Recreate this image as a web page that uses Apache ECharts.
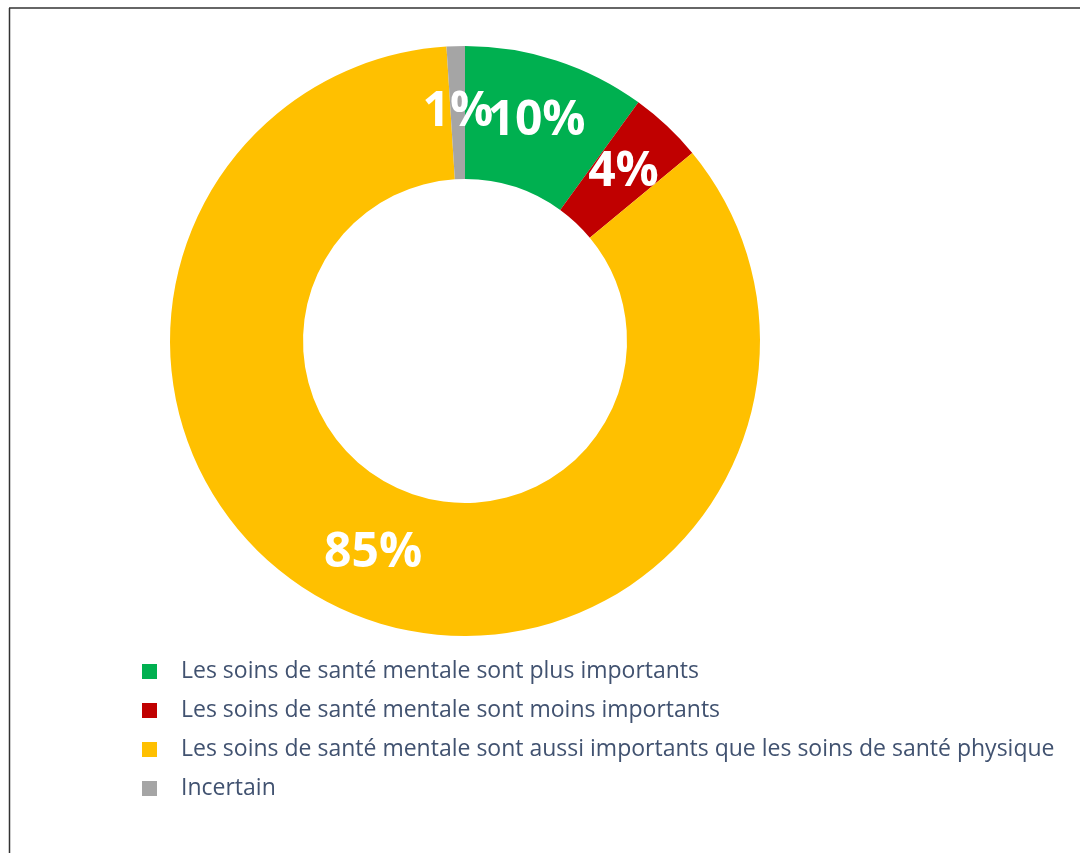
<!DOCTYPE html>
<html>
<head>
<meta charset="utf-8">
<title>Soins de santé mentale</title>
<script src="https://cdn.jsdelivr.net/npm/echarts@6/dist/echarts.min.js"></script>
<style>
  html, body { margin: 0; padding: 0; background: #fff; }
  #chart { width: 1080px; height: 853px; }
</style>
</head>
<body>
<div id="chart"></div>
<script>
// données
var categories = [
    'Les soins de santé mentale sont plus importants',
    'Les soins de santé mentale sont moins importants',
    'Les soins de santé mentale sont aussi importants que les soins de santé physique',
    'Incertain'
];
var values = [10, 4, 85, 1];
var colors = ['#00B050', '#C00000', '#FFC000', '#A5A5A5'];

var myChart = echarts.init(document.getElementById('chart'), null, { renderer: 'canvas' });

var center = [465, 341];
var radius = [162, 295];
var total = values.reduce(function (a, b) { return a + b; }, 0);

// position au milieu de l'anneau pour une part (la petite part grise
// serait masquée par ECharts en position 'inside', on la replace ici)
function midRingPoint(idx) {
    var before = 0;
    for (var i = 0; i < idx; i++) before += values[i];
    var ang = (before + values[idx] / 2) / total * Math.PI * 2;
    var r = (radius[0] + radius[1]) / 2;
    return [center[0] + r * Math.sin(ang), center[1] - r * Math.cos(ang)];
}

var pieData = categories.map(function (name, i) {
    var item = { name: name, value: values[i], itemStyle: { color: colors[i] } };
    if (values[i] / total < 0.03) {
        item.label = { position: 'outside' };
        item.labelLine = { show: false };
    }
    return item;
});

var option = {
    animation: false,
    // cadre : ligne du haut et ligne de gauche
    graphic: [
        { type: 'line', shape: { x1: 9, y1: 8, x2: 1080, y2: 8 }, style: { stroke: '#333', lineWidth: 1.5 } },
        { type: 'line', shape: { x1: 9.5, y1: 8, x2: 9.5, y2: 853 }, style: { stroke: '#333', lineWidth: 1.5 } }
    ],
    legend: {
        orient: 'vertical',
        left: 137,
        top: 655,
        itemWidth: 15,
        itemHeight: 15,
        itemGap: 16,
        icon: 'rect',
        selectedMode: false,
        textStyle: {
            color: '#415270',
            fontSize: 23,
            fontFamily: 'Open Sans',
            padding: [0, 0, 0, 19]
        },
        data: categories
    },
    series: [
        {
            type: 'pie',
            center: center,
            radius: radius,
            startAngle: 90,
            clockwise: true,
            avoidLabelOverlap: false,
            silent: true,
            label: {
                show: true,
                position: 'inside',
                formatter: '{d}%',
                color: '#fff',
                fontSize: 48,
                fontWeight: 'bold',
                fontFamily: 'Open Sans'
            },
            labelLine: { show: false },
            labelLayout: function (params) {
                if (values[params.dataIndex] / total < 0.03) {
                    var p = midRingPoint(params.dataIndex);
                    return { x: p[0], y: p[1], align: 'center', verticalAlign: 'middle' };
                }
                return {};
            },
            data: pieData
        }
    ]
};

option && myChart.setOption(option);
</script>
</body>
</html>
